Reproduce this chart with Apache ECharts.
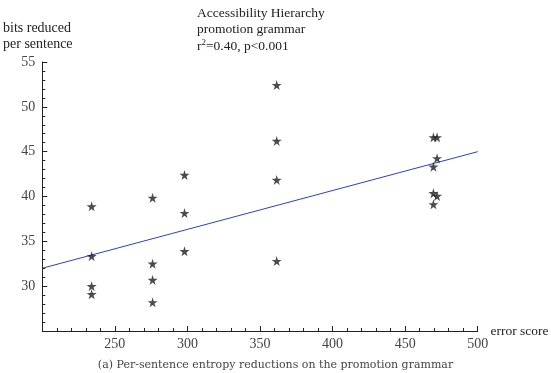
<!DOCTYPE html>
<html lang="en">

<head>
    <meta charset="UTF-8">
    <title>Accessibility Hierarchy</title>
    <script src="https://cdn.jsdelivr.net/npm/echarts@6/dist/echarts.min.js"></script>
    <style>
        body { margin: 0; background: #fff; }
    </style>
</head>

<body>
    <div id="chart" style="height:373px; width:551px"></div>
    <script>
        // error score (x) and bits reduced per sentence (y) for every sentence
        var errorScore = [234, 234, 234, 234,
            276, 276, 276, 276,
            298, 298, 298,
            361.5, 361.5, 361.5, 361.5,
            469.5, 472, 472, 469.5, 469.5, 472, 469.5]
        var bitsReduced = [38.9, 33.35, 30.0, 29.1,
            39.85, 32.5, 30.7, 28.2,
            42.4, 38.15, 33.9,
            52.43, 46.2, 41.85, 32.8,
            46.6, 46.6, 44.26, 43.32, 40.36, 40.06, 39.13]
        // fitted regression line end points
        var fitX = [200, 500]
        var fitY = [32.0, 45.0]

        var points = []
        for (var i = 0; i < errorScore.length; i++) {
            points.push([errorScore[i], bitsReduced[i]])
        }
        var fitLine = []
        for (var j = 0; j < fitX.length; j++) {
            fitLine.push([fitX[j], fitY[j]])
        }

        var serif = 'Liberation Serif'
        var star = 'path://M50,0 L61,35 L98,35 L68,57 L79,91 L50,70 L21,91 L32,57 L2,35 L39,35 Z'

        var myCharts = echarts.init(document.getElementById('chart'))
        var option = {
            animation: false,
            grid: { left: 42.3, right: 73.3, top: 62, bottom: 42 },
            xAxis: {
                type: 'value',
                min: 200,
                max: 500,
                interval: 50,
                splitLine: { show: false },
                axisLine: { lineStyle: { color: '#222', width: 1 } },
                axisTick: { inside: true, length: 5, lineStyle: { color: '#222' } },
                minorTick: { show: true, splitNumber: 5, length: 3, lineStyle: { color: '#222' } },
                axisLabel: {
                    color: '#444', fontFamily: serif, fontSize: 14, margin: 6,
                    formatter: function(v) { return v === 200 ? '' : v }
                }
            },
            yAxis: {
                type: 'value',
                min: 25,
                max: 55,
                interval: 5,
                splitLine: { show: false },
                axisLine: { show: true, lineStyle: { color: '#222', width: 1 } },
                axisTick: { show: true, inside: true, length: 5, lineStyle: { color: '#222' } },
                minorTick: { show: true, splitNumber: 5, length: 3, lineStyle: { color: '#222' } },
                axisLabel: {
                    color: '#444', fontFamily: serif, fontSize: 14, margin: 7,
                    formatter: function(v) { return v === 25 ? '' : v }
                }
            },
            graphic: [
                { type: 'text', left: 3, top: 20, style: { text: 'bits reduced\nper sentence', font: '14px "Liberation Serif"', fill: '#222', lineHeight: 16 } },
                { type: 'text', left: 490.5, top: 324, style: { text: 'error score', font: '13.5px "Liberation Serif"', fill: '#222' } },
                {
                    type: 'text', left: 197, top: 5,
                    style: {
                        text: 'Accessibility Hierarchy\npromotion grammar\nr{sup|2}=0.40, p<0.001',
                        font: '13.5px "Liberation Serif"', fill: '#222', lineHeight: 16.5,
                        rich: { sup: { fontSize: 9, fontFamily: serif, verticalAlign: 'top', padding: [0, 0, 6, 0], fill: '#222' } }
                    }
                },
                { type: 'text', left: 'center', top: 360, style: { text: '(a) Per-sentence entropy reductions on the promotion grammar', font: '11px "DejaVu Serif"', fill: '#444' } }
            ],
            series: [{
                    type: 'line',
                    data: fitLine,
                    symbol: 'none',
                    lineStyle: { color: '#2f42ac', width: 1 },
                    z: 1
                },
                {
                    type: 'scatter',
                    data: points,
                    symbol: star,
                    symbolSize: 10,
                    itemStyle: { color: '#1e1e1e' },
                    z: 2
                }
            ]
        }
        myCharts.setOption(option)
    </script>
</body>

</html>
